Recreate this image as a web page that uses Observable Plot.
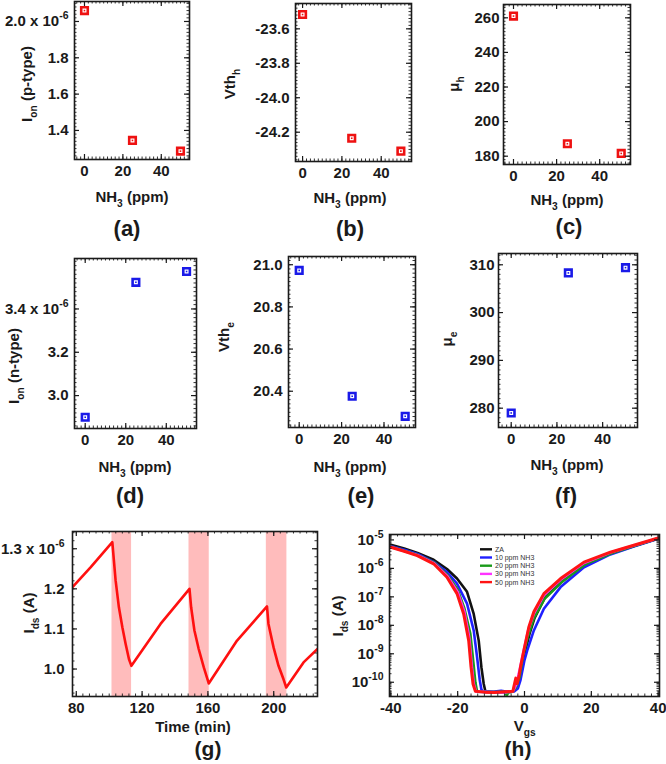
<!DOCTYPE html>
<html><head><meta charset="utf-8">
<script src="https://cdn.jsdelivr.net/npm/d3@7"></script>
<script src="https://cdn.jsdelivr.net/npm/@observablehq/plot@0.6"></script>
<style>
body{margin:0;background:#fff}
#fig{position:relative;width:666px;height:764px;background:#fff;overflow:hidden}
</style>
</head><body><div id="fig"></div>
<script>
// ---------- data ----------
const nh3 = [0, 25, 50];
const ionP = [2.06, 1.345, 1.286];      // x 10^-6 A
const vthH = [-23.517, -24.235, -24.31];
const muH = [261, 187.2, 181.6];
const ionN = [2.90, 3.523, 3.573];      // x 10^-6 A
const vthE = [20.973, 20.376, 20.281];
const muE = [279.0, 308.3, 309.4];

// (g) transient
const gTime = [77.7, 88.8, 101.9, 103.9, 105.9, 108, 110, 112, 113.5, 131.2, 148.8, 149.8, 151.8, 154.4, 157.5, 160.5, 177.7, 195.9, 196.8, 199.9, 202.9, 205.9, 207.6, 218.1, 226.6];
const gIds  = [1.204, 1.254, 1.3165, 1.221, 1.154, 1.104, 1.0625, 1.025, 1.008, 1.1125, 1.2, 1.154, 1.096, 1.05, 1.004, 0.964, 1.071, 1.156, 1.1125, 1.054, 1.008, 0.975, 0.954, 1.0165, 1.05];
const bandStart = [101.7, 148.5, 195.5];
const bandEnd   = [113.6, 160.8, 208.0];

// (h) transfer curves
const hNames  = ["ZA", "10 ppm NH3", "20 ppm NH3", "30 ppm NH3", "50 ppm NH3"];
const hColors = ["#111111", "#1f1fff", "#1a9a1a", "#ff33ff", "#ff1414"];
const hV_ZA  = [-40, -36, -32, -27.2, -23.2, -20.2, -17.2, -15.2, -13.7, -12.9, -12.2, -11.7, -9, -7, -5, -3.5, -2.5, -2, -1, 0, 1.5, 3, 6, 11, 18, 26, 33, 40];
const hI_ZA  = [6.8e-6, 5e-6, 3.5e-6, 2.0e-6, 9.5e-7, 4.4e-7, 1.5e-7, 2.5e-8, 2.9e-9, 3.4e-10, 8.7e-11, 4.8e-11, 4.5e-11, 4.6e-11, 4.5e-11, 4.7e-11, 6e-11, 1e-10, 3e-10, 1e-9, 5e-9, 1.8e-8, 9e-8, 3.4e-7, 1.4e-6, 3.4e-6, 6.2e-6, 1.13e-5];
const hV_10  = [-40, -36, -32, -27.2, -23.2, -20.2, -17.2, -15.2, -14.2, -13.4, -12.9, -12.4, -9, -7, -5, -3, -2, -1.2, 0, 0.8, 2.8, 5.8, 10.8, 17.8, 25.7, 32.7, 40];
const hI_10  = [6e-6, 4.5e-6, 3.2e-6, 1.7e-6, 7.4e-7, 2.9e-7, 5.8e-8, 6.6e-9, 7.8e-10, 1.2e-10, 5.6e-11, 4.6e-11, 4.7e-11, 5e-11, 4.6e-11, 4.8e-11, 6e-11, 1.2e-10, 6e-10, 1.3e-9, 6.6e-9, 3.8e-8, 2.2e-7, 1.1e-6, 3.1e-6, 5.9e-6, 1.1e-5];
const hV_20  = [-40, -32, -27, -23, -20, -18, -16.2, -15.3, -14.7, -14.2, -10, -6, -5.3, -4.8, -3.5, -2.5, -1.5, -0.5, 1, 2.8, 6, 11, 18, 26, 33, 40];
const hI_20  = [5.7e-6, 3.0e-6, 1.6e-6, 5.8e-7, 1.8e-7, 4e-8, 5e-9, 5e-10, 1e-10, 4.7e-11, 4.5e-11, 4.6e-11, 3.4e-11, 4.6e-11, 4.7e-11, 7e-11, 1.5e-10, 8e-10, 4e-9, 1.8e-8, 8.5e-8, 3.2e-7, 1.35e-6, 3.4e-6, 6.2e-6, 1.13e-5];
const hV_30  = [-40, -32, -27, -23, -20, -18, -16.5, -15.8, -15.2, -14.5, -10, -6, -3.5, -2.5, -1.4, -0.3, 1.2, 2.8, 5.8, 10.8, 17.8, 25.7, 32.7, 40];
const hI_30  = [5.6e-6, 2.9e-6, 1.5e-6, 5.2e-7, 1.5e-7, 3e-8, 3.5e-9, 4e-10, 9e-11, 4.7e-11, 4.5e-11, 4.4e-11, 4.8e-11, 8e-11, 3e-10, 1.2e-9, 7.5e-9, 2.6e-8, 1.15e-7, 4e-7, 1.55e-6, 3.6e-6, 6.4e-6, 1.15e-5];
const hV_50  = [-40, -36, -32.1, -27.2, -23.2, -20.2, -18.2, -16.7, -16.0, -15.4, -14.7, -12, -9, -6, -3.5, -2.6, -2.2, -1.6, -1.2, -0.2, 1.3, 2.8, 5.8, 10.8, 17.8, 25.7, 32.7, 40];
const hI_50  = [5.5e-6, 4.0e-6, 2.8e-6, 1.45e-6, 4.9e-7, 1.3e-7, 2.5e-8, 2.9e-9, 3.4e-10, 8.7e-11, 4.8e-11, 4.5e-11, 4.4e-11, 4.6e-11, 4.8e-11, 1.4e-10, 9e-11, 1.8e-10, 3.4e-10, 1.3e-9, 8.7e-9, 3e-8, 1.3e-7, 4.4e-7, 1.66e-6, 3.7e-6, 6.5e-6, 1.17e-5];
const hV = [hV_ZA, hV_10, hV_20, hV_30, hV_50];
const hI = [hI_ZA, hI_10, hI_20, hI_30, hI_50];

// tick labels
const smallXTicks = [0, 20, 40];
const gXTicks = [80, 120, 160, 200];
const hXTicks = [-40, -20, 0, 20, 40];
const hYTicks = [1e-10, 1e-9, 1e-8, 1e-7, 1e-6, 1e-5];

// ---------- helpers ----------
const FONT = "'Liberation Sans', Arial, Helvetica, sans-serif";
const INK = "#1a1a1a";
const RED = "#ee1111";
const BLUE = "#1a1ae8";
const fig = document.getElementById("fig");

function minorTicks(dom, step) {
  const lo = Math.min(...dom), hi = Math.max(...dom), out = [];
  for (let k = Math.ceil(lo / step - 1e-9); k * step <= hi + 1e-9; k++) out.push(+(k * step).toFixed(6));
  return out;
}
function logMinor(dom) {
  const [a, b] = dom, out = [];
  for (let e = Math.floor(Math.log10(a)); e <= Math.ceil(Math.log10(b)); e++)
    for (let m = 1; m < 10; m++) { const v = m * Math.pow(10, e); if (v >= a && v <= b) out.push(v); }
  return out;
}
function tickMarks(xs, ys, fw, fh, len, sw) {
  const o = {stroke: INK, strokeWidth: sw};
  return [
    Plot.tickX(xs, {x: d => d, insetTop: fh - len, ...o}),
    Plot.tickX(xs, {x: d => d, insetBottom: fh - len, ...o}),
    Plot.tickY(ys, {y: d => d, insetRight: fw - len, ...o}),
    Plot.tickY(ys, {y: d => d, insetLeft: fw - len, ...o})
  ];
}
function supify(svg) {
  d3.select(svg).selectAll("text").each(function () {
    const t = this.textContent;
    if (t.includes("^")) {
      const [base, sup] = t.split("^");
      this.textContent = base;
      d3.select(this).append("tspan").attr("dy", -7).attr("font-size", 10.5).text(sup);
    }
  });
}
function addText(svg, ox, oy, x, y, parts, {size = 15, rotate = false, weight = "bold", anchor = "middle", fill = INK} = {}) {
  const xx = x - ox, yy = y - oy;
  const t = d3.select(svg).append("text")
    .attr("text-anchor", anchor).attr("font-size", size).attr("font-weight", weight)
    .attr("fill", fill).attr("font-family", FONT)
    .attr("transform", rotate ? `translate(${xx + size * 0.35},${yy}) rotate(-90)` : `translate(${xx},${yy + size * 0.35})`);
  let shift = 0;
  for (const [s, kind] of parts) {
    const ts = t.append("tspan").text(s);
    let target = 0;
    if (kind === "sub") { ts.attr("font-size", size * 0.68); target = size * 0.3; }
    if (target !== shift) { ts.attr("dy", target - shift); shift = target; }
  }
  return t;
}

function panel(cfg) {
  const {ox, oy, w, h, frame: [L, T, R, B], xd, yd, ylog = false, xMajor, yMajor, xMinorStep, yMinorStep,
    xFmt = d => String(d), yFmt, marks = [], xPad = 6, yPad = 6} = cfg;
  const fw = R - L, fh = B - T;
  const inside = (v, dom) => v >= Math.min(...dom) - 1e-9 && v <= Math.max(...dom) + 1e-9;
  const xMaj = xMajor.filter(v => inside(v, xd));
  const yMaj = yMajor.filter(v => inside(v, yd));
  const xMin = minorTicks(xd, xMinorStep);
  const yMin = ylog ? logMinor(yd) : minorTicks(yd, yMinorStep);
  const svg = Plot.plot({
    width: w, height: h,
    marginLeft: L - ox, marginTop: T - oy, marginRight: ox + w - R, marginBottom: oy + h - B,
    x: {domain: xd},
    y: {domain: yd, type: ylog ? "log" : "linear"},
    style: {fontFamily: FONT, fontSize: "15px", fontWeight: "bold", color: INK, background: "transparent", overflow: "visible"},
    marks: [
      ...marks,
      ...tickMarks(xMin, yMin, fw, fh, 2.5, 0.9),
      ...tickMarks(xMaj, yMaj, fw, fh, 5, 1.2),
      Plot.frame({stroke: INK, strokeWidth: 1.6}),
      Plot.axisX({ticks: xMajor, tickSize: 0, tickPadding: xPad, tickFormat: xFmt, label: null}),
      Plot.axisY({ticks: yMajor, tickSize: 0, tickPadding: yPad, tickFormat: yFmt, label: null})
    ]
  });
  svg.style.position = "absolute";
  svg.style.left = ox + "px";
  svg.style.top = oy + "px";
  fig.appendChild(svg);
  supify(svg);
  return svg;
}

function squares(ys, color) {
  const pts = nh3.map((x, i) => ({x, y: ys[i]}));
  return [
    Plot.dot(pts, {x: "x", y: "y", symbol: "square", r: 3.7, stroke: color, strokeWidth: 2.6, fill: "white"}),
    Plot.dot(pts, {x: "x", y: "y", symbol: "square", r: 0.9, fill: color})
  ];
}

const NHlabel = [["NH"], ["3", "sub"], [" (ppm)"]];
const fmt1 = d => d.toFixed(1);
const PL = 22;

// ---------- (a) ----------
{
  const ox = 0, oy = 0;
  const s = panel({ox, oy, w: 222, h: 240, frame: [74, 1, 189, 159], xd: [-5.2, 54.7], yd: [1.24, 2.11],
    xMajor: smallXTicks, yMajor: [1.4, 1.6, 1.8, 2.0], xMinorStep: 2, yMinorStep: 0.02,
    yFmt: d => d === 2.0 ? "2.0 x 10^-6" : fmt1(d), marks: squares(ionP, RED)});
  addText(s, ox, oy, 132, 197, NHlabel);
  addText(s, ox, oy, 127, 228, [["(a)"]], {size: PL});
  addText(s, ox, oy, 27, 84, [["I"], ["on", "sub"], [" (p-type)"]], {rotate: true});
}
// ---------- (b) ----------
{
  const ox = 222, oy = 0;
  const s = panel({ox, oy, w: 222, h: 240, frame: [295, 3, 411, 161], xd: [-3.6, 55.4], yd: [-24.37, -23.453],
    xMajor: smallXTicks, yMajor: [-24.2, -24.0, -23.8, -23.6], xMinorStep: 2, yMinorStep: 0.02,
    yFmt: fmt1, marks: squares(vthH, RED)});
  addText(s, ox, oy, 350, 198, NHlabel);
  addText(s, ox, oy, 350, 228, [["(b)"]], {size: PL});
  addText(s, ox, oy, 230, 84, [["Vth"], ["h", "sub"]], {rotate: true});
}
// ---------- (c) ----------
{
  const ox = 444, oy = 0;
  const s = panel({ox, oy, w: 222, h: 240, frame: [503, 4, 630, 164], xd: [-4.64, 54.3], yd: [175.2, 267.7],
    xMajor: smallXTicks, yMajor: [180, 200, 220, 240, 260], xMinorStep: 2, yMinorStep: 2, yPad: 4,
    yFmt: d => String(d), marks: squares(muH, RED)});
  addText(s, ox, oy, 567, 200, NHlabel);
  addText(s, ox, oy, 569, 226, [["(c)"]], {size: PL});
  addText(s, ox, oy, 454, 84, [["μ"], ["h", "sub"]], {rotate: true});
}
// ---------- (d) ----------
{
  const ox = 0, oy = 240;
  const s = panel({ox, oy, w: 222, h: 240, frame: [74, 258, 196, 428], xd: [-5.28, 54.9], yd: [2.848, 3.633],
    xMajor: smallXTicks, yMajor: [3.0, 3.2, 3.4], xMinorStep: 2, yMinorStep: 0.02,
    yFmt: d => d === 3.4 ? "3.4 x 10^-6" : fmt1(d), marks: squares(ionN, BLUE)});
  addText(s, ox, oy, 135, 467, NHlabel);
  addText(s, ox, oy, 130, 495, [["(d)"]], {size: PL});
  addText(s, ox, oy, 14, 366, [["I"], ["on", "sub"], [" (n-type)"]], {rotate: true});
}
// ---------- (e) ----------
{
  const ox = 222, oy = 240;
  const s = panel({ox, oy, w: 222, h: 240, frame: [288, 256, 415, 427], xd: [-5.05, 54.86], yd: [20.228, 21.039],
    xMajor: smallXTicks, yMajor: [20.4, 20.6, 20.8, 21.0], xMinorStep: 2, yMinorStep: 0.02,
    yFmt: fmt1, marks: squares(vthE, BLUE)});
  addText(s, ox, oy, 350, 467, NHlabel);
  addText(s, ox, oy, 361, 495, [["(e)"]], {size: PL});
  addText(s, ox, oy, 224, 337, [["Vth"], ["e", "sub"]], {rotate: true});
}
// ---------- (f) ----------
{
  const ox = 444, oy = 240;
  const s = panel({ox, oy, w: 222, h: 240, frame: [498, 253, 637, 427], xd: [-5.56, 55.25], yd: [275.96, 312.36],
    xMajor: smallXTicks, yMajor: [280, 290, 300, 310], xMinorStep: 2, yMinorStep: 1, yPad: 4,
    yFmt: d => String(d), marks: squares(muE, BLUE)});
  addText(s, ox, oy, 567, 465, NHlabel);
  addText(s, ox, oy, 566, 495, [["(f)"]], {size: PL});
  addText(s, ox, oy, 447, 339, [["μ"], ["e", "sub"]], {rotate: true});
}
// ---------- (g) ----------
{
  const ox = 0, oy = 480;
  const yd = [0.9315, 1.343];
  const bands = bandStart.map((s, i) => ({x1: s, x2: bandEnd[i]}));
  const pts = gTime.map((t, i) => ({t, v: gIds[i]}));
  const s = panel({ox, oy, w: 333, h: 284, frame: [72, 531, 317, 696], xd: [77.7, 226.6], yd,
    xMajor: gXTicks, yMajor: [1.0, 1.1, 1.2, 1.3], xMinorStep: 4, yMinorStep: 0.02, yPad: 8,
    yFmt: d => d === 1.3 ? "1.3 x 10^-6" : fmt1(d),
    marks: [
      Plot.rect(bands, {x1: "x1", x2: "x2", y1: () => yd[0], y2: () => yd[1], fill: "#ffbcbc"}),
      Plot.line(pts, {x: "t", y: "v", stroke: "#ff1010", strokeWidth: 2.6, clip: true})
    ]});
  addText(s, ox, oy, 193, 727, [["Time (min)"]]);
  addText(s, ox, oy, 208, 749, [["(g)"]], {size: 21});
  addText(s, ox, oy, 29, 613, [["I"], ["ds", "sub"], [" (A)"]], {rotate: true});
}
// ---------- (h) ----------
{
  const ox = 333, oy = 480;
  const lines = hV.map((vs, k) => Plot.line(vs.map((v, i) => ({v, I: hI[k][i]})),
    {x: "v", y: "I", stroke: hColors[k], strokeWidth: k === 4 ? 3 : 2.6, clip: true}));
  const s = panel({ox, oy, w: 333, h: 284, frame: [389, 534, 659, 696], xd: [-40.4, 40.4], yd: [3.16e-11, 1.55e-5], ylog: true,
    xMajor: hXTicks, yMajor: hYTicks, xMinorStep: 2, yPad: 6,
    yFmt: d => "10^" + Math.round(Math.log10(d)), marks: lines});
  const g = d3.select(s).append("g").attr("text-anchor", "start");
  hNames.forEach((name, i) => {
    const y = 549.3 + i * 8.2 - oy;
    g.append("line").attr("x1", 480 - ox).attr("x2", 492 - ox).attr("y1", y).attr("y2", y)
      .attr("stroke", hColors[i]).attr("stroke-width", 2.4);
    g.append("text").attr("x", 495 - ox).attr("y", y).attr("dy", "0.35em").attr("text-anchor", "start")
      .attr("font-size", 7).attr("font-weight", "normal").attr("fill", "#333").attr("font-family", FONT).text(name);
  });
  addText(s, ox, oy, 524.7, 726, [["V"], ["gs", "sub"]]);
  addText(s, ox, oy, 518, 749, [["(h)"]], {size: 21});
  addText(s, ox, oy, 338, 616, [["I"], ["ds", "sub"], [" (A)"]], {rotate: true});
}
</script>
</body></html>
